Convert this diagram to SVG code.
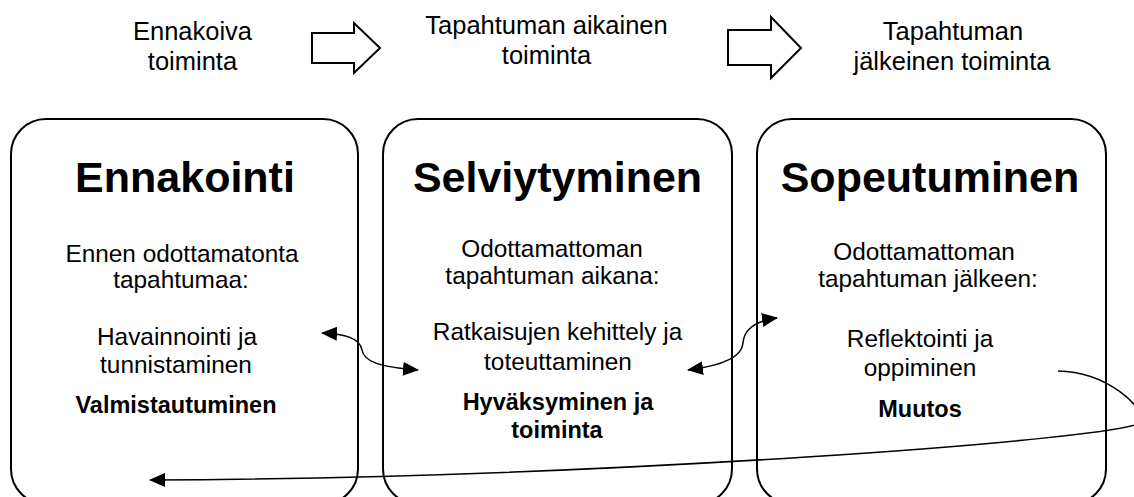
<svg xmlns="http://www.w3.org/2000/svg" width="1134" height="497" viewBox="0 0 1134 497">
<style>
.box{fill:#fff;stroke:#000;stroke-width:2}
.blk{fill:#fff;stroke:#000;stroke-width:2;stroke-linejoin:miter}
.t{font-family:"Liberation Sans",Arial,sans-serif;fill:#000;text-anchor:middle}
.top{font-size:25.5px}
.title{font-size:43px;font-weight:bold}
.body{font-size:24.4px}
.bold{font-size:23.5px;font-weight:bold}
.con{fill:none;stroke:#000;stroke-width:1.5}
</style>
<defs>
<marker id="ah" viewBox="0 0 16 14" refX="15" refY="7" markerWidth="16" markerHeight="14" markerUnits="userSpaceOnUse" orient="auto-start-reverse">
<path d="M0,0 L16,7 L0,14 Z" fill="#000"/>
</marker>
</defs>
<rect width="1134" height="497" fill="#fff"/>
<g id="label-ennakoiva">
<text class="t top" x="192.5" y="40">Ennakoiva</text>
<text class="t top" x="192.5" y="70">toiminta</text>
</g>
<g id="arrow-1">
<polygon class="blk" points="312,33 354,33 354,23 380,48 354,73 354,63 312,63"/>
</g>
<g id="label-aikainen">
<text class="t top" x="546.5" y="34">Tapahtuman aikainen</text>
<text class="t top" x="546.5" y="64">toiminta</text>
</g>
<g id="arrow-2">
<polygon class="blk" points="728,30 771,30 771,17 801,48 771,78 771,65 728,65"/>
</g>
<g id="label-jalkeinen">
<text class="t top" x="953" y="40">Tapahtuman</text>
<text class="t top" x="952" y="70">jälkeinen toiminta</text>
</g>
<g id="box-ennakointi">
<rect class="box" x="11" y="119" width="347" height="385" rx="35" ry="35"/>
<text class="t title" x="185" y="192">Ennakointi</text>
<text class="t body" x="182" y="262">Ennen odottamatonta</text>
<text class="t body" x="181" y="288">tapahtumaa:</text>
<text class="t body" x="177" y="345">Havainnointi ja</text>
<text class="t body" x="176" y="373">tunnistaminen</text>
<text class="t bold" x="176" y="413">Valmistautuminen</text>
</g>
<g id="box-selviytyminen">
<rect class="box" x="383" y="119" width="349" height="385" rx="35" ry="35"/>
<text class="t title" x="557.5" y="192">Selviytyminen</text>
<text class="t body" x="552" y="257">Odottamattoman</text>
<text class="t body" x="552.5" y="284">tapahtuman aikana:</text>
<text class="t body" x="557.5" y="340">Ratkaisujen kehittely ja</text>
<text class="t body" x="558" y="370">toteuttaminen</text>
<text class="t bold" x="558" y="410">Hyväksyminen ja</text>
<text class="t bold" x="557" y="438">toiminta</text>
</g>
<g id="box-sopeutuminen">
<rect class="box" x="757" y="119" width="349" height="385" rx="35" ry="35"/>
<text class="t title" x="930" y="192">Sopeutuminen</text>
<text class="t body" x="924" y="260">Odottamattoman</text>
<text class="t body" x="928" y="287">tapahtuman jälkeen:</text>
<text class="t body" x="920" y="347">Reflektointi ja</text>
<text class="t body" x="920" y="376">oppiminen</text>
<text class="t bold" x="920" y="417">Muutos</text>
</g>
<g id="connectors">
<path class="con" d="M322,333 C345,334 360,338 362,350 C364,362 380,367 418,370" marker-start="url(#ah)" marker-end="url(#ah)"/>
<path class="con" d="M688,370 C720,366 742,358 743,343 C744,330 755,321 777,318" marker-start="url(#ah)" marker-end="url(#ah)"/>
<path class="con" d="M1058,371 C1108,372 1145,408 1142,422 C1120,440 600,478 150,480" marker-end="url(#ah)"/>
</g>
</svg>
